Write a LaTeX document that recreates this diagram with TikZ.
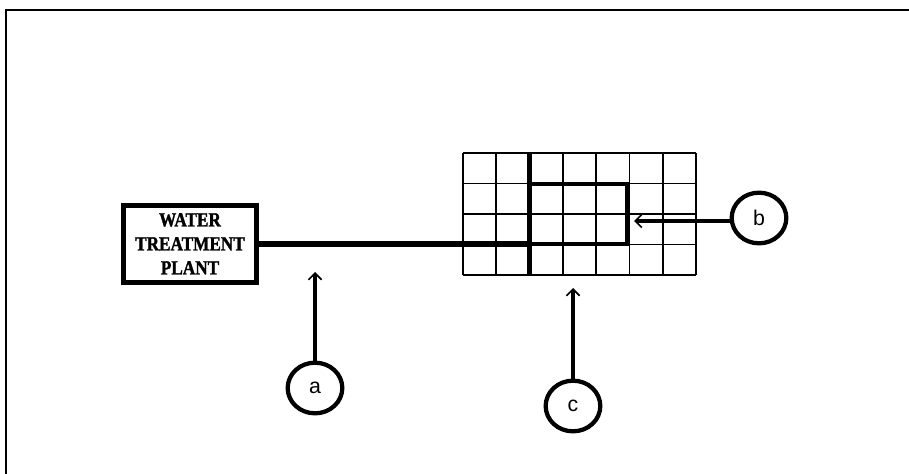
\documentclass[tikz,border=0pt]{standalone}
\usepackage{fontspec}
\setmainfont{Liberation Serif}
\newfontfamily\labelfont{Liberation Sans}
\newfontfamily\plantfont[FakeStretch=0.86,FakeBold=1.5]{Liberation Serif}
\usetikzlibrary{arrows.meta,shapes.geometric,positioning}
\begin{document}
\begin{tikzpicture}[x=0.75pt,y=-0.75pt,
			pointer/.style={line width=3.6pt,-{Straight Barb[line width=1.2pt,length=5pt,width=10pt]}},
			plant node/.style={rectangle,draw,line width=3.6pt,minimum width=100pt,minimum height=58pt,
				inner sep=1pt,align=center,font=\plantfont\bfseries\fontsize{15}{18}\selectfont},
			area node/.style={rectangle,draw,line width=3.4pt,outer sep=0pt,minimum width=73pt,minimum height=45pt,inner sep=0pt},
			mark node/.style={ellipse,draw,line width=3.2pt,minimum width=41pt,minimum height=38pt,
				font=\labelfont\fontsize{16}{16}\selectfont}]
			
			\useasboundingbox (0,0) rectangle (909,474);
			\draw[line width=1.8pt] (6,474) |- (909,10);
			
			% town grid
			\foreach \i in {0,...,7}
			\draw[line width=1.4pt] (463+\i*33.29,153) -- ++(0,122);
			\foreach \j in {0,...,4}
			\draw[line width=1.4pt] (463,153+\j*30.5) -- ++(233,0);
			\draw[line width=3.4pt] (529.6,153) -- (529.6,275);
			
			\node[plant node] (Plant) at (190,243.8) {WATER\\TREATMENT\\PLANT};
			\node[area node] (Area) at (578.3,213.8) {};
			\node[mark node] (A) at (315,388) {a};
			\node[mark node] (B) at (759,218) {b};
			\node[mark node] (C) at (573,406) {c};
			
			\coordinate (TipA) at (315,272);
			\coordinate (TipB) at (634,221);
			\coordinate (TipC) at (573,288);
			
			\draw[line width=4.4pt] (Plant.east) -- (Area.south west);
			\draw[pointer] (A) -- (TipA);
			\draw[pointer] (B.west |- TipB) -- (TipB);
			\draw[pointer] (C) -- (TipC);
			\end{tikzpicture}
\end{document}
